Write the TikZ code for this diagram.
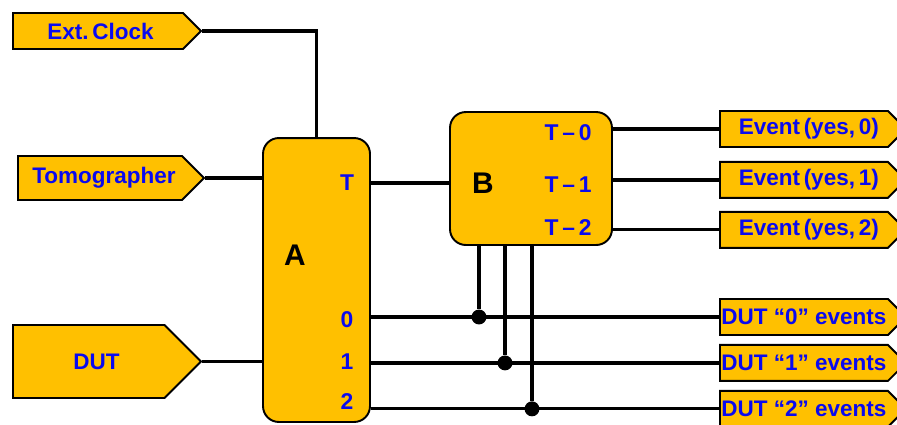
\documentclass[tikz,border=0pt]{standalone}
\usepackage{fontspec}
\setmainfont{Liberation Sans}
\usepackage{xcolor}
\usetikzlibrary{positioning,shapes.symbols}
\definecolor{boxfill}{HTML}{FFC000}
\definecolor{labelblue}{HTML}{0A0AEE}

\begin{document}
\begin{tikzpicture}[x=0.02cm, y=-0.02cm,
    io/.style={signal, signal to=east, signal pointer angle=90, draw, fill=boxfill,
        line width=1.1pt, inner sep=0pt, anchor=west, text=labelblue,
        font=\fontsize{12.8}{15}\selectfont\bfseries},
    unit/.style={draw, fill=boxfill, rounded corners=9pt, line width=1.1pt},
    unitname/.style={font=\fontsize{17}{20}\selectfont\bfseries},
    port/.style={text=labelblue, font=\fontsize{13}{15}\selectfont\bfseries},
    wire/.style={line width=1.8pt},
    dot/.style={circle, fill, inner sep=0pt, minimum size=8.5pt}]
    \useasboundingbox (0,0) rectangle (897,424);

    % Nodes
    \node[io, minimum width=3.76cm, minimum height=0.72cm] (clk) at (12,31) {\hspace*{3pt}Ext.\,Clock};
    \node[io, minimum width=3.72cm, minimum height=0.88cm] (tomo) at (17,178) {\hspace*{4.5pt}Tomographer};
    \node[io, minimum width=3.76cm, minimum height=1.46cm] (dut) at (12,361.5) {\hspace*{9pt}DUT};

    \node[unit, minimum width=2.14cm, minimum height=5.68cm] (A) at (316.5,280) {};
    \node[unitname] at (295,255) {A};
    \node[port] (pT) at (347,183) {T};
    \node[port] (p0) at (347,320) {0};
    \node[port] (p1) at (347,362) {1};
    \node[port] (p2) at (347,402) {2};

    \node[unit, minimum width=3.24cm, minimum height=2.66cm] (B) at (531,178.5) {};
    \node[unitname] at (483,183) {B};
    \node[port] (q0) at (568,133) {T\,--\,0};
    \node[port] (q1) at (568,185) {T\,--\,1};
    \node[port] (q2) at (568,228) {T\,--\,2};

    \node[io, minimum width=3.72cm, minimum height=0.72cm] (ev0) at (719,129) {\hspace*{5.5pt}Event\,(yes,\,0)};
    \node[io, minimum width=3.72cm, minimum height=0.72cm] (ev1) [below=0.26cm of ev0.south west, anchor=north west] {\hspace*{5.5pt}Event\,(yes,\,1)};
    \node[io, minimum width=3.72cm, minimum height=0.72cm] (ev2) [below=0.24cm of ev1.south west, anchor=north west] {\hspace*{5.5pt}Event\,(yes,\,2)};

    \node[io, minimum width=3.72cm, minimum height=0.72cm] (d0) at (719,317) {DUT “0” events};
    \node[io, minimum width=3.72cm, minimum height=0.72cm] (d1) [below=0.16cm of d0.south west, anchor=north west] {DUT “1” events};
    \node[io, minimum width=3.72cm, minimum height=0.72cm] (d2) [below=0.16cm of d1.south west, anchor=north west] {DUT “2” events};

    % Wires
    \draw[wire] (clk.east) -| (A.north);
    \draw[wire] (tomo.east) -- (tomo.east -| A.west);
    \draw[wire] (dut.east) -- (dut.east -| A.west);
    \draw[wire] (A.east |- pT) -- (B.west |- pT);

    \draw[wire] (ev0.west -| B.east) -- (ev0.west);
    \draw[wire] (ev1.west -| B.east) -- (ev1.west);
    \draw[wire] (ev2.west -| B.east) -- (ev2.west);

    \draw[wire] (d0.west -| A.east) -- (d0.west);
    \draw[wire] (d1.west -| A.east) -- (d1.west);
    \draw[wire] (d2.west -| A.east) -- (d2.west);

    % Junctions
    \coordinate (x0) at (479,0);
    \coordinate (x1) at (505,0);
    \coordinate (x2) at (532,0);
    \node[dot] (j0) at (d0.west -| x0) {};
    \node[dot] (j1) at (d1.west -| x1) {};
    \node[dot] (j2) at (d2.west -| x2) {};
    \draw[wire] (j0 |- B.south) -- (j0);
    \draw[wire] (j1 |- B.south) -- (j1);
    \draw[wire] (j2 |- B.south) -- (j2);
\end{tikzpicture}
\end{document}
